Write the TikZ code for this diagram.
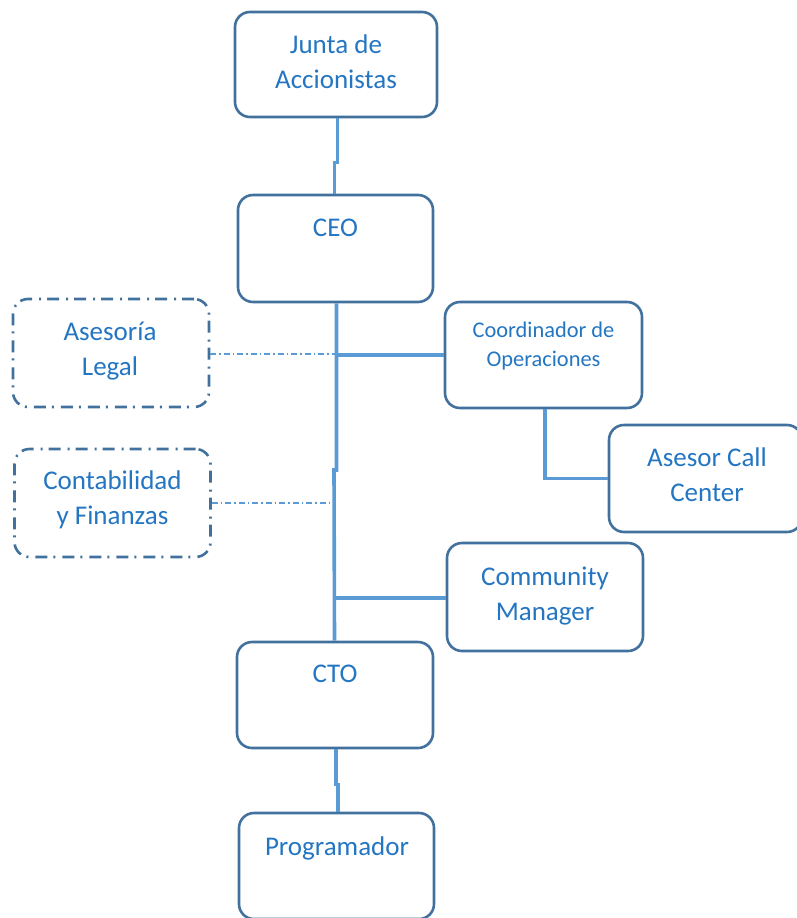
\documentclass[tikz,border=0pt]{standalone}
\usepackage{fontspec}
\setmainfont{Carlito}
\definecolor{boxline}{RGB}{65,113,156}
\definecolor{linkline}{RGB}{91,155,213}
\definecolor{labeltext}{RGB}{36,118,194}
\tikzset{
  orgbox/.style={draw=boxline, line width=2.6pt, fill=white, rounded corners=15pt,
    minimum width=#1, minimum height=106pt, inner sep=0pt},
  orgbox/.default=196pt,
  advbox/.style={orgbox, dash pattern=on 12pt off 6pt on 2pt off 7pt},
  lbl/.style={text=labeltext, align=center, inner sep=0pt,
    font=\fontsize{27}{35}\selectfont},
  smalllbl/.style={lbl, font=\fontsize{22.4}{28.5}\selectfont},
  link/.style={draw=linkline, line width=3.6pt},
  advlink/.style={draw=linkline, line width=1.2pt, dash pattern=on 6pt off 3pt on 1.5pt off 3pt}
}
\begin{document}
\begin{tikzpicture}[x=1pt,y=-1pt]
\useasboundingbox (0,0) rectangle (797,918);

% boxes
\node[orgbox=202pt, minimum height=105pt] (junta) at (336,64.5) {};
\node[orgbox=195pt, minimum height=107pt] (ceo) at (335.5,248.5) {};
\node[advbox, minimum height=108pt] (legal) at (111,353) {};
\node[orgbox=197pt] (coord) at (543.5,355) {};
\node[orgbox=193pt, minimum height=107pt] (call) at (705.5,478.5) {};
\node[advbox=197pt, minimum height=108pt] (conta) at (112.5,503) {};
\node[orgbox=196pt, minimum height=108pt] (cm) at (545,597) {};
\node[orgbox=196pt] (cto) at (335,695) {};
\node[orgbox=195pt] (prog) at (336.5,866) {};

% reporting lines
\coordinate (spineA) at (336.5,355);
\coordinate (spineB) at (336.5,470);
\coordinate (spineC) at (334,470);
\coordinate (spineD) at (334,598);
\coordinate (legalJ) at (336,354);
\coordinate (contaJ) at (333,503);

\draw[link] ([xshift=1.5pt]junta.south) -- ++(0,44) -| ([xshift=-1pt]ceo.north);
\draw[link] ([xshift=1pt]ceo.south) -- (spineB) -- (spineC) -- ([xshift=-0.5pt]cto.north);
\draw[link] (spineA) -- (spineA -| coord.west);
\draw[link] (spineD) -- (spineD -| cm.west);
\draw[link] ([xshift=1.5pt]coord.south) |- (call.west);
\draw[link] ([xshift=1pt]cto.south) -- ++(0,35) -| ([xshift=1.5pt]prog.north);
\draw[advlink] (legal.east |- legalJ) -- (legalJ);
\draw[advlink] (conta.east |- contaJ) -- (contaJ);

% labels
\node[lbl] (juntaT) at (336,62) {Junta de\\Accionistas};
\node[lbl] (ceoT) at (335.5,228) {CEO};
\node[lbl] (legalT) at (110,351) {Asesoría\\Legal};
\node[smalllbl] (coordT) at (543.5,346) {Coordinador de\\Operaciones};
\node[lbl] (callT) at (707,475) {Asesor Call\\Center};
\node[lbl] (contaT) at (112.5,500) {Contabilidad\\y Finanzas};
\node[lbl] (cmT) at (545,596) {Community\\Manager};
\node[lbl] (ctoT) at (335,674) {CTO};
\node[lbl] (progT) at (337,848) {Programador};
\end{tikzpicture}
\end{document}
